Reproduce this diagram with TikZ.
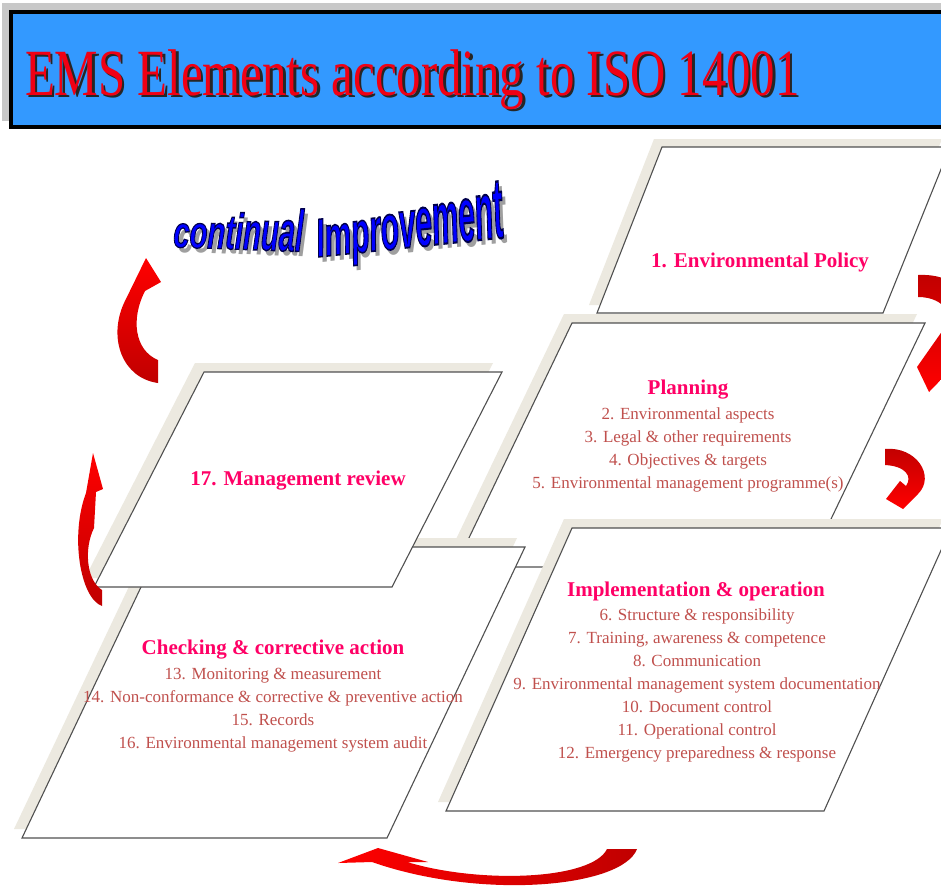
\documentclass[tikz,border=0pt]{standalone}
\usepackage{fontspec}
\setmainfont{Liberation Serif}
\newfontfamily\cifont{Liberation Sans}
\definecolor{beige}{RGB}{236,233,224}
\definecolor{edge}{RGB}{80,80,80}
\definecolor{headpink}{RGB}{255,0,102}
\definecolor{itemred}{RGB}{192,80,77}
\definecolor{titleblue}{RGB}{51,153,255}
\definecolor{titlered}{RGB}{240,0,20}
\definecolor{titleshade}{RGB}{200,200,200}
\definecolor{rred}{RGB}{255,0,0}
\definecolor{dred}{RGB}{192,0,0}
\definecolor{ciblue}{RGB}{0,0,255}
\tikzset{
  shadowband/.style={fill=beige, draw=none},
  plate/.style={fill=white, draw=edge, line width=1.1pt, line join=miter},
  headtext/.style={text=headpink, font=\bfseries\fontsize{21}{24}\selectfont, inner sep=0pt},
  itemtext/.style={text=itemred, font=\fontsize{17}{23}\selectfont, align=center, inner sep=0pt},
  titletext/.style={font=\fontsize{66}{70}\selectfont, anchor=base west, inner sep=0pt, xscale=0.74},
  ciletter/.style={anchor=base west, inner sep=0pt, outer sep=0pt,
    font=\cifont\bfseries\itshape\fontsize{40}{40}\selectfont},
}
% outlined glyph: fill with the node colour, stroke in dark navy
\newcommand\olch[1]{\special{pdf:literal direct 2 Tr 0 0 0.3 RG 1.1 w}#1\special{pdf:literal direct 0 Tr}}
\newcommand\ciChain[4]{%
  \foreach \ch/\ys [count=\i] in {c/1.10,o/1.14,n/1.18,t/1.22,i/1.27,n/1.32,u/1.37,a/1.42,l/1.47}{%
    \pgfmathtruncatemacro\j{\i-1}%
    \ifnum\i=1
      \node[ciletter, text=#3, rotate=-2, xscale=0.73, yscale=\ys] (ca\i) at (173+#1,247+#2) {#4{\ch}};
    \else
      \node[ciletter, text=#3, rotate=-2, xscale=0.73, yscale=\ys] (ca\i) at (ca\j.base east) {#4{\ch}};
    \fi
  }%
  \foreach \ch/\ys [count=\i] in {I/1.36,m/1.42,p/1.48,r/1.55,o/1.62,v/1.70,e/1.78,m/1.87,e/1.96,n/2.06,t/2.16}{%
    \pgfmathtruncatemacro\j{\i-1}%
    \ifnum\i=1
      \node[ciletter, text=#3, rotate=6, xscale=0.75, yscale=\ys] (cb\i) at (318+#1,257+#2) {#4{\ch}};
    \else
      \node[ciletter, text=#3, rotate=6, xscale=0.75, yscale=\ys] (cb\i) at (cb\j.base east) {#4{\ch}};
    \fi
  }%
}
\begin{document}
\begin{tikzpicture}[x=1pt,y=-1pt]
\useasboundingbox (0,0) rectangle (941,892);
\clip (0,0) rectangle (941,892);
\fill[white] (0,0) rectangle (941,892);

% title bar
\fill[titleshade] (2,3) rectangle (950,121);
\filldraw[fill=titleblue, draw=black, line width=4pt] (11,12) rectangle (962,127);
\node[titletext, text=black!85] (titleshadow) at (27.5,97.5) {EMS Elements according to ISO 14001};
\node[titletext, text=titlered] (title) at (25,95) {EMS Elements according to ISO 14001};

% continual Improvement (shadow, then outlined blue letters)
\ciChain{4}{5}{gray!75}{\relax}
\ciChain{0}{0}{ciblue}{\olch}

% 1 policy
\fill[shadowband, shift={(-8,-8)}] (662,147) -- (950,147) -- (883,313) -- (597,313) -- cycle;
\draw[plate] (662,147) -- (950,147) -- (883,313) -- (597,313) -- cycle;
% planning
\fill[shadowband, shift={(-8,-9)}] (572,323) -- (925,323) -- (808,567) -- (455,567) -- cycle;
\draw[plate] (572,323) -- (925,323) -- (808,567) -- (455,567) -- cycle;
% checking
\fill[shadowband, shift={(-8,-9)}] (160,547) -- (525,547) -- (387,838) -- (22,838) -- cycle;
\draw[plate] (160,547) -- (525,547) -- (387,838) -- (22,838) -- cycle;
% management review
\fill[shadowband, shift={(-9,-9)}] (204,372) -- (502,372) -- (392,587) -- (94,587) -- cycle;
\draw[plate] (204,372) -- (502,372) -- (392,587) -- (94,587) -- cycle;
% implementation
\fill[shadowband, shift={(-8,-9)}] (572,528) -- (951,528) -- (824,811) -- (446,811) -- cycle;
\draw[plate] (572,528) -- (951,528) -- (824,811) -- (446,811) -- cycle;

% texts
\node[headtext] (policy) at (760,262) {1. Environmental Policy};
\node[headtext] (planhead) at (688,390) {Planning};
\node[itemtext] (planitems) at (688,450) {2. Environmental aspects\\3. Legal \& other requirements\\4. Objectives \& targets\\5. Environmental management programme(s)};
\node[headtext] (review) at (298,481) {17. Management review};
\node[headtext] (implhead) at (696,591) {Implementation \& operation};
\node[itemtext] (implitems) at (697,685) {6. Structure \& responsibility\\7. Training, awareness \& competence\\8. Communication\\9. Environmental management system documentation\\10. Document control\\11. Operational control\\12. Emergency preparedness \& response};
\node[headtext] (checkhead) at (273,650) {Checking \& corrective action};
\node[itemtext] (checkitems) at (273,710) {13. Monitoring \& measurement\\14. Non-conformance \& corrective \& preventive action\\15. Records\\16. Environmental management system audit};

% red curved arrows
\shade[top color=rred, bottom color=dred] (158,383) .. controls (122,378) and (108,338) .. (124,303) -- (146,258) -- (161,282) -- (145,291) .. controls (131,318) and (134,350) .. (158,360) -- cycle;
\shade[top color=dred, bottom color=rred] (918,275) .. controls (975,272) and (990,330) .. (960,360) -- (929,392) -- (917,367) -- (950,320) -- (948,335) .. controls (956,318) and (946,297) .. (918,297) -- cycle;
\shade[top color=dred, bottom color=rred] (885,449) .. controls (916,446) and (936,476) .. (918,494) -- (903,509) -- (886,499) -- (900,481) -- (906,486) .. controls (913,476) and (905,466) .. (885,465) -- cycle;
\shade[top color=rred, bottom color=dred] (102,606) .. controls (80,598) and (70,535) .. (86,493) -- (93,453) -- (103,489) -- (96,492) -- (94,528) .. controls (84,548) and (86,580) .. (102,590) -- cycle;
\shade[left color=rred, right color=dred] (637,849) .. controls (622,888) and (480,900) .. (372,862) -- (338,863) -- (378,848) -- (428,862) -- (407,862) .. controls (480,884) and (592,880) .. (607,849) -- cycle;
\end{tikzpicture}
\end{document}
